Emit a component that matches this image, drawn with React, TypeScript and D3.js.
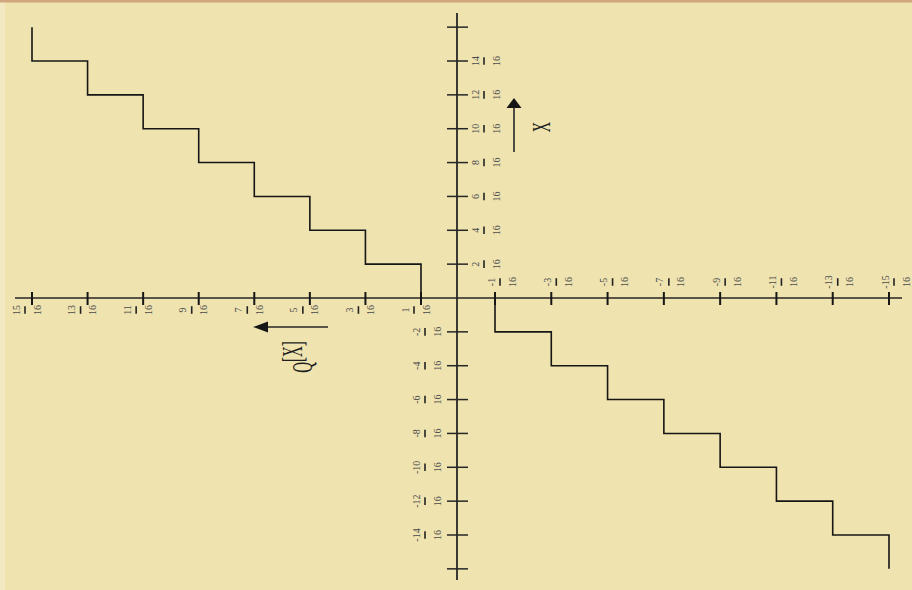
import * as d3 from "d3";
import React from "react";

const W = 912;
const H = 590;

// quantizer: output levels and input thresholds, both in sixteenths
const outLevels = [1, 3, 5, 7, 9, 11, 13, 15];
const inThresholds = [0, 2, 4, 6, 8, 10, 12, 14, 16];
// axis ticks (sixteenths)
const hTicks = [-15, -13, -11, -9, -7, -5, -3, -1, 1, 3, 5, 7, 9, 11, 13, 15];
const vTicks = [-16, -14, -12, -10, -8, -6, -4, -2, 2, 4, 6, 8, 10, 12, 14, 16];
const vUnlabeled = [-16, 16];
const denom = "16";

const inkColor = "#161616";
const axisColor = "#262626";
const labelColor = "#4a4a4a";
const serif = "'Liberation Serif', 'DejaVu Serif', serif";

function Fraction({ cx, cy, num }: { cx: number; cy: number; num: string }) {
  // whole page is turned a quarter turn, so fractions read bottom to top
  return (
    <g transform={`translate(${cx},${cy}) rotate(-90)`} fill={labelColor} fontFamily={serif} fontSize={10}>
      <text x={0} y={-5.5} textAnchor="middle">{num}</text>
      <line x1={-3.8} x2={3.8} y1={0} y2={0} stroke="#222" strokeWidth={1.6} />
      <text x={0} y={15.5} textAnchor="middle">{denom}</text>
    </g>
  );
}

export default function App() {
  const x = d3.scaleLinear().domain([-15, -1, 1, 15]).range([889, 495, 421, 32]);
  const y = d3.scaleLinear().domain([-14, 14]).range([535, 61]);
  const x0 = x(0);
  const y0 = y(0);

  const upper: [number, number][] = outLevels.flatMap((l, i) => [
    [l, inThresholds[i]] as [number, number],
    [l, inThresholds[i + 1]] as [number, number],
  ]);
  const lower: [number, number][] = upper.map(([a, b]) => [-a, -b]);
  const line = d3
    .line<[number, number]>()
    .x((d) => x(d[0]))
    .y((d) => y(d[1]));

  // arrows next to the axes
  const hArrow = { x1: 328, x2: 253, y: 327 };
  const vArrow = { x: 514, y1: 152, y2: 98 };

  return (
    <svg width={W} height={H} style={{ position: "absolute", left: 0, top: 0 }}>
      <rect x={0} y={0} width={W} height={H} fill="#EFE3B0" />
      <rect x={0} y={0} width={5} height={H} fill="#F2E9C3" />
      <rect x={0} y={0} width={W} height={2.5} fill="#CFA67D" />

      {/* horizontal axis */}
      <line x1={15} x2={902} y1={y0} y2={y0} stroke={axisColor} strokeWidth={1.5} />
      {hTicks.map((t) => (
        <line key={"ht" + t} x1={x(t)} x2={x(t)} y1={y0 - 6} y2={y0 + 7} stroke={inkColor} strokeWidth={2} />
      ))}
      {hTicks.map((t) =>
        t > 0 ? (
          <Fraction key={"hl" + t} cx={x(t) - 7} cy={310} num={String(t)} />
        ) : (
          <Fraction key={"hl" + t} cx={x(t) + 5} cy={282} num={String(t)} />
        )
      )}

      {/* vertical axis */}
      <line x1={x0 - 1} x2={x0 - 1} y1={13} y2={580} stroke={axisColor} strokeWidth={1.8} />
      {vTicks.map((t) => (
        <line key={"vt" + t} x1={x0 - 11} x2={x0 + 10} y1={y(t)} y2={y(t)} stroke={axisColor} strokeWidth={1.5} />
      ))}
      {vTicks
        .filter((t) => !vUnlabeled.includes(t))
        .map((t) =>
          t > 0 ? (
            <Fraction key={"vl" + t} cx={x0 + 26} cy={y(t)} num={String(t)} />
          ) : (
            <Fraction key={"vl" + t} cx={x0 - 33} cy={y(t)} num={String(t)} />
          )
        )}

      {/* staircase */}
      <path d={line(upper) ?? ""} fill="none" stroke={inkColor} strokeWidth={1.6} />
      <path d={line(lower) ?? ""} fill="none" stroke={inkColor} strokeWidth={1.6} />

      {/* output axis arrow and label */}
      <line x1={hArrow.x1} x2={hArrow.x2 + 12} y1={hArrow.y} y2={hArrow.y} stroke={axisColor} strokeWidth={1.5} />
      <path
        d={`M${hArrow.x2},${hArrow.y} L${hArrow.x2 + 15},${hArrow.y - 5.5} L${hArrow.x2 + 15},${hArrow.y + 5.5} Z`}
        fill={inkColor}
      />
      <g transform="translate(302,357) rotate(-90) scale(0.5,1)" fontFamily={serif} fontSize={30} fill="#1e1e1e">
        <text x={0} y={0} textAnchor="middle">
          <tspan dy={10}>Q</tspan>
          <tspan dy={-10}>[X]</tspan>
        </text>
      </g>

      {/* input axis arrow and label */}
      <line x1={vArrow.x} x2={vArrow.x} y1={vArrow.y1} y2={vArrow.y2 + 8} stroke={axisColor} strokeWidth={1.6} />
      <path
        d={`M${vArrow.x},${vArrow.y2} L${vArrow.x - 7.5},${vArrow.y2 + 10} L${vArrow.x + 7.5},${vArrow.y2 + 10} Z`}
        fill={inkColor}
      />
      <g transform="translate(550,127) rotate(-90) scale(0.55,1)" fontFamily={serif} fontSize={26} fill="#1e1e1e">
        <text x={0} y={0} textAnchor="middle">X</text>
      </g>
    </svg>
  );
}
